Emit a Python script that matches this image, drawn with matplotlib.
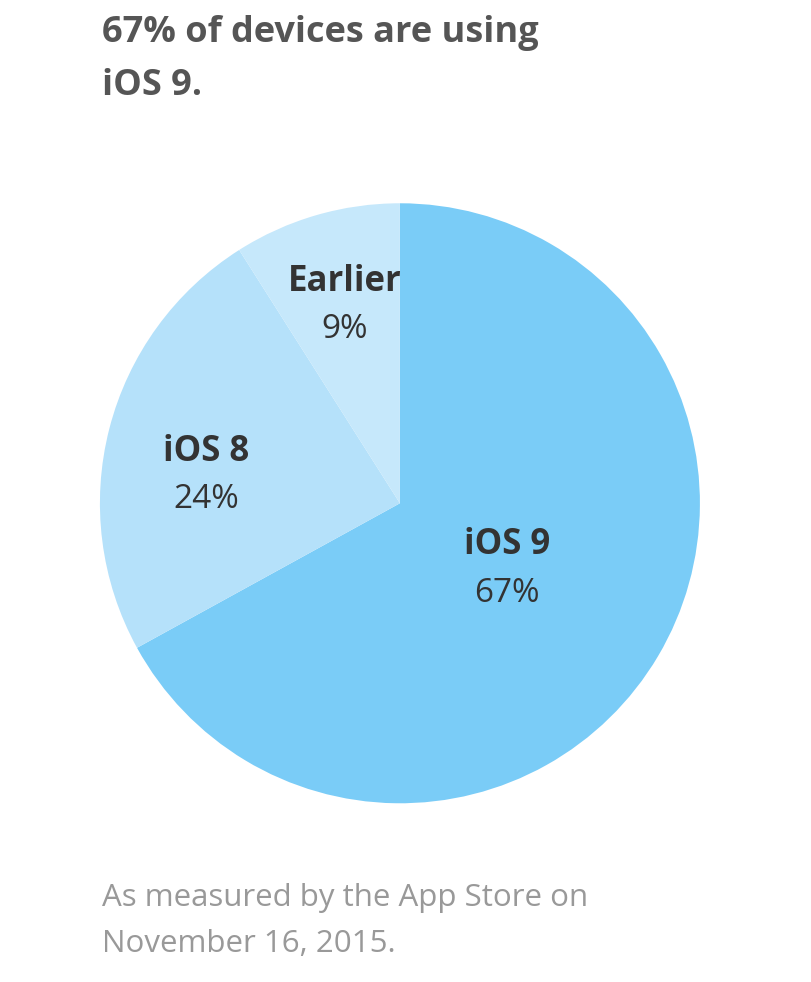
import matplotlib
matplotlib.use("Agg")
import matplotlib.pyplot as plt

labels = ["iOS 9", "iOS 8", "Earlier"]
values = [67, 24, 9]
colors = ["#7ACCF7", "#B5E1FA", "#C6E8FB"]

W, H = 812, 982
fig = plt.figure(figsize=(W/100, H/100), dpi=100)
ax = fig.add_axes([0.123, 0.182, 0.739, 0.611])
ax.pie(values, colors=colors, startangle=90, counterclock=False,
       wedgeprops=dict(linewidth=0), radius=1)
ax.set_xlim(-1, 1)
ax.set_ylim(-1, 1)
ax.set_aspect("equal")
ax.axis("off")

def px(x, y):
    return x / W, 1 - y / H

fam = ["Open Sans", "DejaVu Sans"]
pos = {"iOS 9": (507, 545, 593), "iOS 8": (206, 452, 500), "Earlier": (345, 282, 330)}
for lab, v in zip(labels, values):
    x, y1, y2 = pos[lab]
    fig.text(*px(x, y1), lab, ha="center", va="center", fontsize=25,
             fontweight="bold", color="#333333", family=fam)
    fig.text(*px(x, y2), f"{v}%", ha="center", va="center", fontsize=24,
             color="#333333", family=fam)

fig.text(*px(102, 33), "67% of devices are using", ha="left", va="center",
         fontsize=26, fontweight="bold", color="#555555", family=fam)
fig.text(*px(102, 86), "iOS 9.", ha="left", va="center",
         fontsize=26, fontweight="bold", color="#555555", family=fam)
fig.text(*px(102, 898), "As measured by the App Store on", ha="left", va="center",
         fontsize=22.5, color="#999999", family=fam)
fig.text(*px(102, 944), "November 16, 2015.", ha="left", va="center",
         fontsize=22.5, color="#999999", family=fam)

fig.savefig("out.png", dpi=100, facecolor="white")
